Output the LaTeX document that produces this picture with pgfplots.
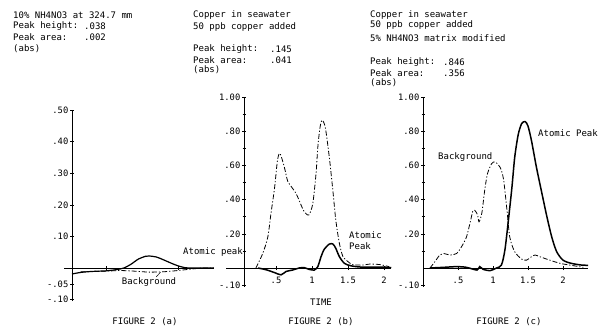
\documentclass[border=0pt]{standalone}
\usepackage{fontspec}
\setmainfont{DejaVu Sans Mono}
\usepackage{pgfplots}
\pgfplotsset{compat=1.18}
\begin{document}
\begin{tikzpicture}[x=1pt,y=1pt]
\useasboundingbox (0,0) rectangle (600,333);
\pgfplotsset{
 mystyle/.style={
  axis x line=middle, axis y line=left, axis line style={-, line width=0.7pt},
  clip=false, anchor=origin,
  tick align=center, major tick length=4pt, minor tick length=3pt,
  every tick/.style={line width=0.6pt, black},
  ticklabel style={font=\fontsize{8.8}{10}\selectfont, inner sep=1.5pt},
  xticklabel style={yshift=-5pt},
 },
 atom/.style={black, line width=1.5pt, smooth, tension=0.45, no marks},
 bg/.style={black, line width=0.8pt, dash pattern=on 5pt off 2pt on 1.2pt off 2pt, smooth, tension=0.45, no marks},
}
% ---------- (a)
\begin{axis}[mystyle, at={(72pt,65pt)}, x=72pt, y=316pt,
  xmin=0.03, xmax=2.0, ymin=-0.105, ymax=0.5,
  xtick={0.5,1.5}, xticklabels={},
  ytick={-0.1,-0.05,0.1,0.2,0.3,0.4,0.5},
  yticklabels={-.10,-.05,.10,.20,.30,.40,.50}]
\addplot[bg] coordinates {(0.15,-0.012)(0.3,-0.011)(0.5,-0.01)(0.7,-0.008)(0.9,-0.01)(1.1,-0.013)(1.3,-0.012)(1.5,-0.008)(1.7,-0.003)(1.85,0)(2.0,0)};
\addplot[atom, line width=1.2pt] coordinates {(0.03,-0.019)(0.15,-0.014)(0.3,-0.011)(0.5,-0.009)(0.65,-0.005)(0.75,0)(0.85,0.012)(0.95,0.028)(1.05,0.037)(1.1,0.038)(1.2,0.035)(1.3,0.026)(1.4,0.016)(1.5,0.007)(1.6,0.001)(1.7,0)(2.0,0)};
\draw[line width=0.7pt] (axis cs:-0.08,0) -- (axis cs:0.03,0);
\draw[line width=0.5pt] (axis cs:1.2,-0.028) -- (axis cs:1.26,-0.013);
\end{axis}
% ---------- (b)
\begin{axis}[mystyle, at={(244pt,65pt)}, x=72pt, y=171pt,
  xmin=0.055, xmax=2.1, ymin=-0.11, ymax=1.0,
  xtick={0.5,1,1.5,2}, xticklabels={.5,1,1.5,2},
  ytick={-0.1,0.2,0.4,0.6,0.8,1.0},
  yticklabels={-.10,.20,.40,.60,.80,1.00},
  minor ytick={0.1,0.3,0.5,0.7,0.9}]
\addplot[bg] coordinates {(0.22,0)(0.315,0.085)(0.385,0.18)(0.43,0.32)(0.48,0.47)(0.52,0.63)(0.555,0.67)(0.615,0.59)(0.66,0.51)(0.71,0.477)(0.78,0.434)(0.85,0.366)(0.89,0.33)(0.955,0.31)(1.01,0.376)(1.055,0.55)(1.08,0.705)(1.11,0.82)(1.14,0.865)(1.185,0.82)(1.24,0.647)(1.29,0.45)(1.33,0.28)(1.38,0.143)(1.43,0.066)(1.5,0.037)(1.565,0.02)(1.70,0.017)(1.80,0.023)(1.94,0.02)(2.07,0.008)};
\addplot[atom] coordinates {(0.25,0)(0.36,-0.01)(0.48,-0.027)(0.57,-0.04)(0.64,-0.02)(0.73,-0.012)(0.82,0)(0.89,0.002)(0.96,-0.008)(1.03,-0.012)(1.08,0.008)(1.125,0.066)(1.17,0.11)(1.24,0.14)(1.29,0.14)(1.33,0.115)(1.38,0.066)(1.45,0.027)(1.54,0.013)(1.66,0.006)(1.8,0.005)(2.0,0.005)(2.1,0.002)};
\draw[line width=0.7pt] (axis cs:-0.19,0) -- (axis cs:0.055,0);
\end{axis}
% ---------- (c)
\begin{axis}[mystyle, at={(423pt,65pt)}, x=70pt, y=171pt,
  xmin=0, xmax=2.36, ymin=-0.11, ymax=1.0,
  xtick={0.5,1,1.5,2}, xticklabels={.5,1,1.5,2},
  ytick={-0.1,0.2,0.4,0.6,0.8,1.0},
  yticklabels={-.10,.20,.40,.60,.80,1.00},
  minor ytick={0.1,0.3,0.5,0.7,0.9}]
\addplot[bg] coordinates {(0.1,0)(0.17,0.037)(0.24,0.076)(0.29,0.085)(0.39,0.076)(0.48,0.085)(0.55,0.124)(0.62,0.18)(0.67,0.26)(0.71,0.33)(0.74,0.337)(0.78,0.31)(0.80,0.27)(0.84,0.32)(0.88,0.45)(0.92,0.55)(0.98,0.61)(1.03,0.62)(1.10,0.59)(1.15,0.52)(1.20,0.337)(1.24,0.18)(1.31,0.095)(1.41,0.052)(1.48,0.046)(1.55,0.066)(1.60,0.076)(1.67,0.066)(1.81,0.046)(1.96,0.027)(2.1,0.017)(2.29,0.004)};
\addplot[atom] coordinates {(0.1,0)(0.3,0.004)(0.48,0.008)(0.62,0.004)(0.77,-0.012)(0.81,0.008)(0.86,-0.008)(0.96,-0.015)(1.05,0)(1.12,0.017)(1.17,0.105)(1.22,0.28)(1.27,0.47)(1.31,0.647)(1.36,0.78)(1.41,0.845)(1.46,0.856)(1.50,0.83)(1.55,0.744)(1.62,0.59)(1.70,0.434)(1.77,0.30)(1.84,0.18)(1.91,0.095)(2.0,0.046)(2.12,0.027)(2.27,0.017)(2.36,0.016)};
\end{axis}
% ---------- texts
\begin{scope}[every node/.style={font=\fontsize{9}{10}\selectfont, inner sep=0pt}]
\node[anchor=west] at (13,318) {10\% NH4NO3 at 324.7 mm};
\node[anchor=west] at (13,307) {Peak height:};
\node[anchor=west] at (84,307) {.038};
\node[anchor=west] at (13,296) {Peak area:};
\node[anchor=west] at (84,296) {.002};
\node[anchor=west] at (13,284) {(abs)};

\node[anchor=west] at (193,318) {Copper in seawater};
\node[anchor=west] at (193,306) {50 ppb copper added};
\node[anchor=west] at (193,284) {Peak height:};
\node[anchor=west] at (270,284) {.145};
\node[anchor=west] at (193,273) {Peak area:};
\node[anchor=west] at (270,273) {.041};
\node[anchor=west] at (193,263) {(abs)};

\node[anchor=west] at (370,318) {Copper in seawater};
\node[anchor=west] at (370,308) {50 ppb copper added};
\node[anchor=west] at (370,295) {5\% NH4NO3 matrix modified};
\node[anchor=west] at (370,271) {Peak height:};
\node[anchor=west] at (443,271) {.846};
\node[anchor=west] at (370,260) {Peak area:};
\node[anchor=west] at (443,260) {.356};
\node[anchor=west] at (370,250) {(abs)};

\node[anchor=west] at (183,81) {Atomic peak};
\node at (149,51) {Background};
\node[anchor=west] at (349,98) {Atomic};
\node[anchor=west] at (349,87) {Peak};
\node[anchor=west] at (438,176) {Background};
\node[anchor=west] at (538,200) {Atomic Peak};
\node at (321,31) {TIME};
\node at (145,11) {FIGURE 2 (a)};
\node at (321,11) {FIGURE 2 (b)};
\node at (509,11) {FIGURE 2 (c)};
\end{scope}
\end{tikzpicture}
\end{document}
